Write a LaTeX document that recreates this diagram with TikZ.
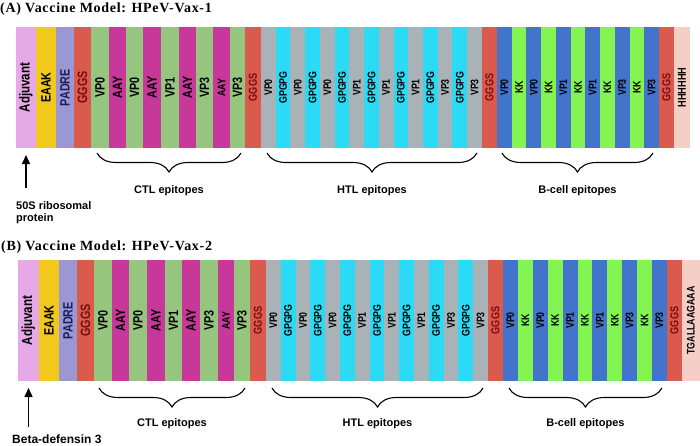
\documentclass[tikz,border=0pt]{standalone}
\usepackage{fontspec}
\setmainfont{Liberation Sans}
\newfontfamily\segfont[FakeStretch=0.8]{Liberation Sans}
\newfontfamily\titlefont[LetterSpace=5]{Liberation Serif}
\usetikzlibrary{arrows.meta, calc, decorations.pathreplacing}

\definecolor{adjcol}{HTML}{E4A9E6}
\definecolor{eaakcol}{HTML}{F2C81C}
\definecolor{padrecol}{HTML}{9B97D3}
\definecolor{linkcol}{HTML}{DA5A4E}
\definecolor{linktext}{HTML}{7A0C0C}
\definecolor{padretext}{HTML}{1C1C5C}
\definecolor{ctlcol}{HTML}{95C57E}
\definecolor{aaycol}{HTML}{C8379A}
\definecolor{htlcol}{HTML}{A9B2B6}
\definecolor{gpcol}{HTML}{2BDAF4}
\definecolor{bcol}{HTML}{4374CC}
\definecolor{kkcol}{HTML}{84F452}
\definecolor{hiscol}{HTML}{F5CFC6}

\begin{document}
\begin{tikzpicture}[
    x=1pt, y=1pt,
    >={Triangle[length=9pt, width=8pt]},
    seg/.style={rectangle, inner sep=0pt, outer sep=0pt, minimum height=121pt, anchor=west},
    big/.style={font=\segfont\bfseries\fontsize{13.5}{13.5}\selectfont},
    mid/.style={font=\segfont\bfseries\fontsize{11.5}{11.5}\selectfont},
    small/.style={font=\segfont\bfseries\fontsize{11}{11}\selectfont},
    adj/.style={seg, big, font=\segfont\bfseries\fontsize{14.5}{14.5}\selectfont, fill=adjcol},
    eaak/.style={seg, big, fill=eaakcol},
    padre/.style={seg, big, fill=padrecol, text=padretext},
    link/.style={seg, big, fill=linkcol, text=linktext},
    linksm/.style={seg, mid, fill=linkcol, text=linktext},
    ctl/.style={seg, big, fill=ctlcol},
    aay/.style={seg, big, fill=aaycol},
    aaysm/.style={seg, small, fill=aaycol},
    htl/.style={seg, small, fill=htlcol},
    gp/.style={seg, small, fill=gpcol},
    bvp/.style={seg, small, fill=bcol},
    kk/.style={seg, small, fill=kkcol},
    his/.style={seg, mid, fill=hiscol},
    tga/.style={seg, small, fill=hiscol},
    title/.style={font=\titlefont\bfseries\fontsize{14}{14}\selectfont, inner sep=0pt, anchor=west},
    epi/.style={font=\bfseries\fontsize{11}{11}\selectfont},
    brace/.style={decorate, decoration={brace, mirror, amplitude=19pt}, line width=1.1pt},
    arr/.style={->, line width=1.5pt},
  ]

  \useasboundingbox (0,0) rectangle (700,-445);

  % (A) HPeV-Vax-1
  \node[title] (titA) at (0,-9) {(A) Vaccine Model: HPeV-Vax-1};
  \coordinate (a0) at (16,-87.5);
  \foreach \w/\s/\t [count=\i, remember=\i as \j (initially 0)] in {
      20/adj/Adjuvant, 20/eaak/EAAK, 18/padre/PADRE, 17/link/GGGS,
      18/ctl/VP0, 17/aay/AAY, 17/ctl/VP0, 18/aay/AAY, 18/ctl/VP1,
      17/aay/AAY, 17/ctl/VP3, 17/aaysm/AAY, 15/ctl/VP3,
      16/linksm/GGGS,
      14.73/htl/VP0, 14.73/gp/GPGPG, 14.73/htl/VP0, 14.73/gp/GPGPG,
      14.73/htl/VP0, 14.73/gp/GPGPG, 14.73/htl/VP1, 14.73/gp/GPGPG,
      14.73/htl/VP1, 14.73/gp/GPGPG, 14.73/htl/VP1, 14.73/gp/GPGPG,
      14.73/htl/VP3, 14.73/gp/GPGPG, 14.73/htl/VP3,
      15/linksm/GGGS,
      14.73/bvp/VP0, 14.73/kk/KK, 14.73/bvp/VP0, 14.73/kk/KK,
      14.73/bvp/VP1, 14.73/kk/KK, 14.73/bvp/VP1, 14.73/kk/KK,
      14.73/bvp/VP3, 14.73/kk/KK, 14.73/bvp/VP3,
      15/linksm/GGGS, 16/his/HHHHHH}
    \node[\s, minimum width=\w pt] (a\i) at (a\j.east) {\rotatebox{90}{\t}};

  \coordinate (ctlA-l) at ($(a5.south west)+(6,-5)$);
  \coordinate (ctlA-r) at ($(a13.south east)+(-4,-5)$);
  \coordinate (htlA-l) at ($(a15.south west)+(6,-5)$);
  \coordinate (htlA-r) at ($(a29.south east)+(-5,-5)$);
  \coordinate (bA-l) at ($(a31.south west)+(5,-5)$);
  \coordinate (bA-r) at ($(a41.south east)+(-6,-5)$);
  \draw[brace] (ctlA-l) -- (ctlA-r);
  \draw[brace] (htlA-l) -- (htlA-r);
  \draw[brace] (bA-l) -- (bA-r);
  \node[epi] (ctlA) at ($(ctlA-l)!.5!(ctlA-r)+(0,-38)$) {CTL epitopes};
  \node[epi] (htlA) at ($(htlA-l)!.5!(htlA-r)+(0,-38)$) {HTL epitopes};
  \node[epi] (bA) at ($(bA-l)!.5!(bA-r)+(0,-38)$) {B-cell epitopes};

  \node[epi, anchor=north west, align=left, inner sep=0pt] (ribo) at (16,-201)
    {50S ribosomal\\[1pt]protein};
  \draw[arr] ([yshift=-40pt]a1.south) -- ([yshift=-7pt]a1.south);

  % (B) HPeV-Vax-2
  \node[title] (titB) at (1,-247) {(B) Vaccine Model: HPeV-Vax-2};
  \coordinate (b0) at (18,-320.5);
  \foreach \w/\s/\t [count=\i, remember=\i as \j (initially 0)] in {
      21/adj/Adjuvant, 20/eaak/EAAK, 18/padre/PADRE, 17/link/GGGS,
      18/ctl/VP0, 17/aay/AAY, 18/ctl/VP0, 18/aay/AAY, 17/ctl/VP1,
      18/aay/AAY, 18/ctl/VP3, 16/aaysm/AAY, 16/ctl/VP3,
      16/linksm/GGGS,
      14.8/htl/VP0, 14.8/gp/GPGPG, 14.8/htl/VP0, 14.8/gp/GPGPG,
      14.8/htl/VP0, 14.8/gp/GPGPG, 14.8/htl/VP1, 14.8/gp/GPGPG,
      14.8/htl/VP1, 14.8/gp/GPGPG, 14.8/htl/VP1, 14.8/gp/GPGPG,
      14.8/htl/VP3, 14.8/gp/GPGPG, 14.8/htl/VP3,
      15/linksm/GGGS,
      14.9/bvp/VP0, 14.9/kk/KK, 14.9/bvp/VP0, 14.9/kk/KK,
      14.9/bvp/VP1, 14.9/kk/KK, 14.9/bvp/VP1, 14.9/kk/KK,
      14.9/bvp/VP3, 14.9/kk/KK, 14.9/bvp/VP3,
      15/linksm/GGGS, 18/tga/TGALLAAGAAA}
    \node[\s, minimum width=\w pt] (b\i) at (b\j.east) {\rotatebox{90}{\t}};

  \coordinate (ctlB-l) at ($(b5.south west)+(5,-7)$);
  \coordinate (ctlB-r) at ($(b13.south east)+(-5,-7)$);
  \coordinate (htlB-l) at ($(b15.south west)+(6,-7)$);
  \coordinate (htlB-r) at ($(b29.south east)+(-5,-7)$);
  \coordinate (bB-l) at ($(b31.south west)+(6,-7)$);
  \coordinate (bB-r) at ($(b41.south east)+(-5,-7)$);
  \draw[brace] (ctlB-l) -- (ctlB-r);
  \draw[brace] (htlB-l) -- (htlB-r);
  \draw[brace] (bB-l) -- (bB-r);
  \node[epi] (ctlB) at ($(ctlB-l)!.5!(ctlB-r)+(0,-36)$) {CTL epitopes};
  \node[epi] (htlB) at ($(htlB-l)!.5!(htlB-r)+(0,-36)$) {HTL epitopes};
  \node[epi] (bB) at ($(bB-l)!.5!(bB-r)+(0,-36)$) {B-cell epitopes};

  \node[epi, font=\bfseries\fontsize{12}{12}\selectfont, anchor=base west, inner sep=0pt]
    (defen) at (12,-443) {Beta-defensin 3};
  \draw[arr] ([yshift=-46pt]b1.south) -- ([yshift=-7pt]b1.south);

\end{tikzpicture}
\end{document}
